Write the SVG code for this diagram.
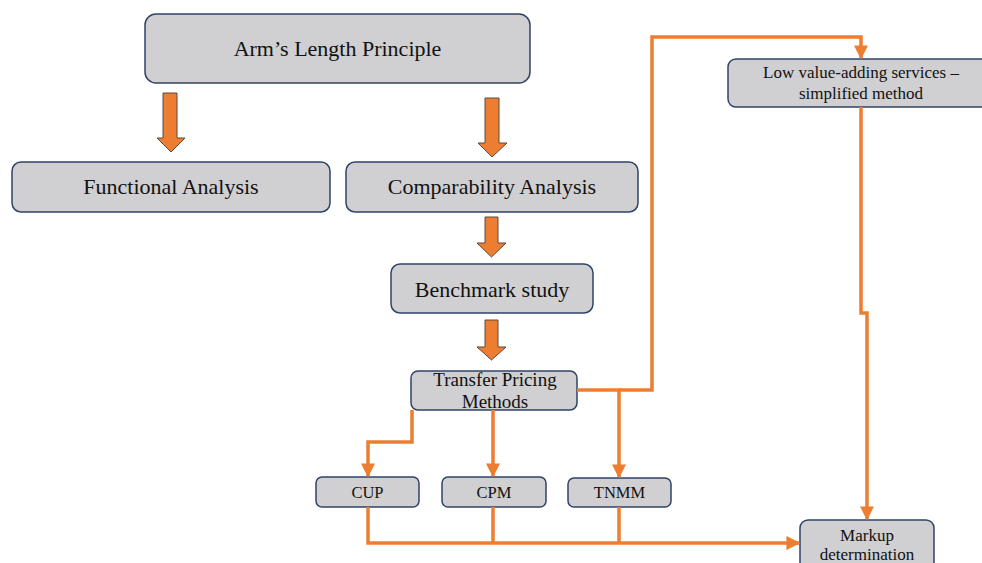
<svg xmlns="http://www.w3.org/2000/svg" width="982" height="563" viewBox="0 0 982 563">
<defs>
<style>
.box{fill:#d0cfd1;stroke:#2e4468;stroke-width:1.5}
.t{font-family:"Liberation Serif","Times New Roman",serif;fill:#111;text-anchor:middle}
.c{fill:none;stroke:#ed7d31;stroke-width:3.5}
.blk{fill:#ed7d31;stroke:#5a4a40;stroke-width:1}
</style>
<marker id="ah" viewBox="0 0 10 10" refX="9" refY="5" markerWidth="4" markerHeight="4" orient="auto" markerUnits="strokeWidth">
<path d="M0,0 L10,5 L0,10 Z" fill="#ed7d31"/>
</marker>
</defs>
<rect width="982" height="563" fill="#fff"/>
<g id="n-arm"><rect class="box" x="145" y="14" width="385" height="69" rx="11"/><text class="t" x="337.5" y="56" font-size="22">Arm’s Length Principle</text></g>
<g id="n-func"><rect class="box" x="12" y="162" width="318" height="50" rx="9"/><text class="t" x="171" y="194" font-size="22">Functional Analysis</text></g>
<g id="n-comp"><rect class="box" x="346" y="162" width="292" height="50" rx="9"/><text class="t" x="492" y="194" font-size="22">Comparability Analysis</text></g>
<g id="n-bench"><rect class="box" x="391" y="264" width="202" height="49" rx="9"/><text class="t" x="492" y="297" font-size="22">Benchmark study</text></g>
<g id="n-tpm"><rect class="box" x="411" y="371" width="166" height="39" rx="7"/><text class="t" x="495" y="386" font-size="19">Transfer Pricing</text><text class="t" x="495" y="408" font-size="19">Methods</text></g>
<g id="n-cup"><rect class="box" x="316" y="477" width="103" height="30" rx="6"/><text class="t" x="367.5" y="498" font-size="16.5">CUP</text></g>
<g id="n-cpm"><rect class="box" x="442" y="477" width="104" height="30" rx="6"/><text class="t" x="494" y="498" font-size="16.5">CPM</text></g>
<g id="n-tnmm"><rect class="box" x="568" y="478" width="103" height="29" rx="6"/><text class="t" x="619.5" y="498" font-size="16.5">TNMM</text></g>
<g id="n-low"><rect class="box" x="728" y="59" width="262" height="48" rx="8"/><text class="t" x="861" y="78" font-size="17">Low value-adding services –</text><text class="t" x="861" y="99" font-size="17">simplified method</text></g>
<g id="n-markup"><rect class="box" x="800" y="520" width="134" height="56" rx="8"/><text class="t" x="867" y="541" font-size="17">Markup</text><text class="t" x="867" y="560" font-size="17">determination</text></g>
<g id="connectors">
<path class="blk" d="M163,93 H177 V138 H185 L171,152 L157,138 H163 Z"/>
<path class="blk" d="M485,98 H499 V143 H507 L492,157 L478,143 H485 Z"/>
<path class="blk" d="M485,217 H498 V243 H506 L491.5,257 L477,243 H485 Z"/>
<path class="blk" d="M485,320 H498 V347 H506 L491.5,360 L477,347 H485 Z"/>
<path class="c" d="M412,410 V442 H368 V476" marker-end="url(#ah)"/>
<path class="c" d="M493,410 V476" marker-end="url(#ah)"/>
<path class="c" d="M577,390 H619 V477" marker-end="url(#ah)"/>
<path class="c" d="M619,390 H652 V37 H861 V58" marker-end="url(#ah)"/>
<path class="c" d="M861,107 V313 H867 V519" marker-end="url(#ah)"/>
<path class="c" d="M368,507 V543 H799" marker-end="url(#ah)"/>
<path class="c" d="M493,507 V543"/>
<path class="c" d="M619,507 V543"/>
</g>
</svg>
